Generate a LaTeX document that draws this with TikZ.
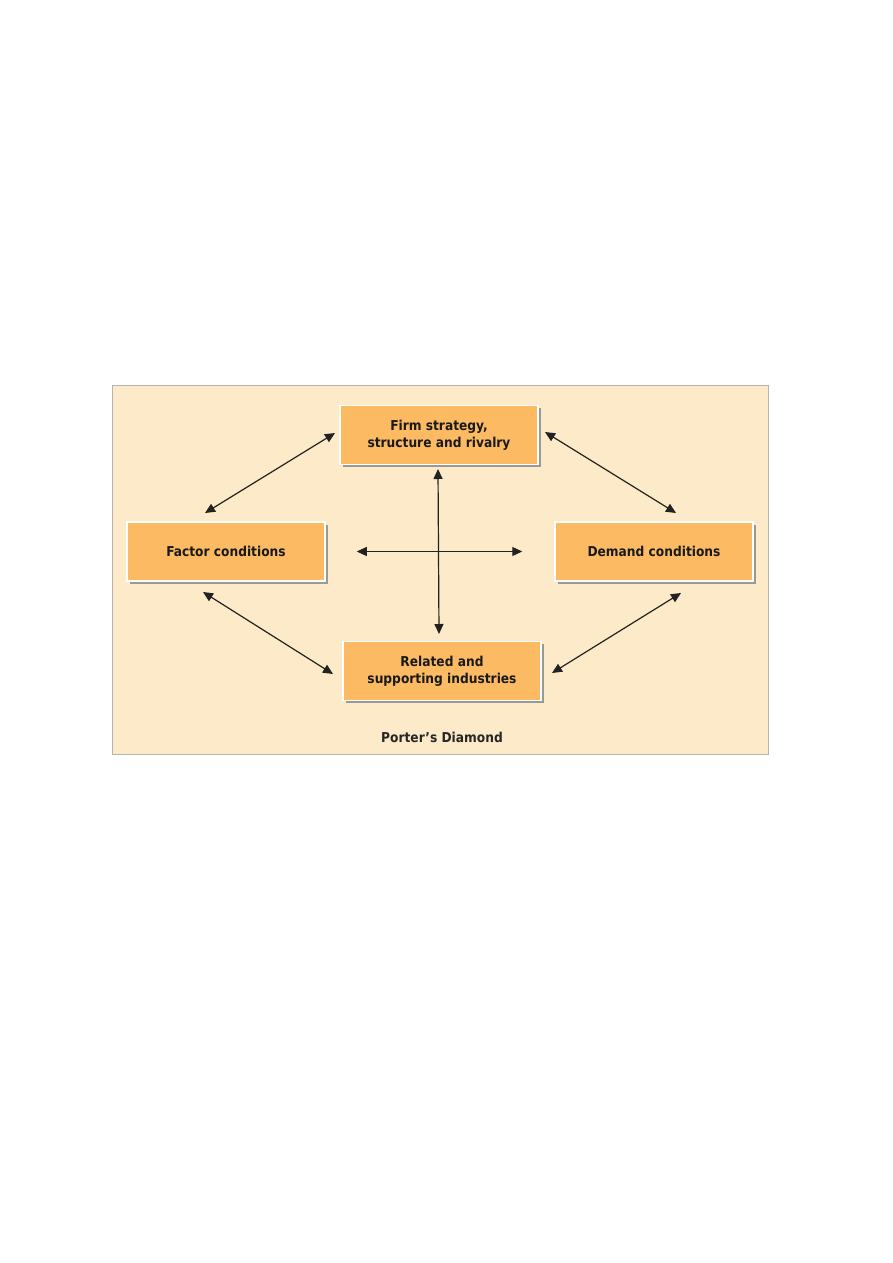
\documentclass[tikz,border=0pt]{standalone}
\usepackage{fontspec}
\setmainfont{DejaVu Sans Condensed}
\usetikzlibrary{arrows.meta,shadows}
\definecolor{panelfill}{HTML}{FDEAC8}
\definecolor{boxfill}{HTML}{FCBB62}
\definecolor{panelline}{HTML}{B4B4B4}
\definecolor{arrowcol}{HTML}{222222}
\tikzset{
  fbox/.style={rectangle, draw=white, line width=1.5pt, fill=boxfill,
    minimum width=198pt, minimum height=59pt, inner sep=2pt, align=center,
    font=\bfseries\fontsize{13.6}{17}\selectfont, text=black!90,
    drop shadow={shadow xshift=2.5pt, shadow yshift=-2.5pt, fill=gray!80, opacity=1}},
  conn/.style={draw=arrowcol, line width=1.2pt, {Triangle[length=10pt,width=9pt]}-{Triangle[length=10pt,width=9pt]}},
  captionstyle/.style={font=\bfseries\fontsize{13.6}{15}\selectfont, text=black!85}
}
\begin{document}
\begin{tikzpicture}[x=1pt,y=-1pt]
\useasboundingbox[fill=white] (0,0) rectangle (893,1263);
\draw[panelline, fill=panelfill, line width=1pt] (112.5,385.5) rectangle (768,754);
\node[fbox] (top) at (439,435) {Firm strategy,\\structure and rivalry};
\node[fbox] (fc) at (226,551.5) {Factor conditions};
\node[fbox] (dc) at (654,551.5) {Demand conditions};
\node[fbox] (bot) at (442,671) {Related and\\supporting industries};
\node[captionstyle] (cap) at (442,737) {Porter’s Diamond};
\coordinate (a1) at (205,513);
\coordinate (a2) at (335,433);
\coordinate (b1) at (545,432);
\coordinate (b2) at (676,513);
\coordinate (c1) at (203,592);
\coordinate (c2) at (333,674);
\coordinate (d1) at (552,673);
\coordinate (d2) at (681,593);
\coordinate (v1) at (438,469);
\coordinate (v2) at (439,634);
\draw[conn] (a1) -- (a2);
\draw[conn] (b1) -- (b2);
\draw[conn] (c1) -- (c2);
\draw[conn] (d1) -- (d2);
\draw[conn] (v1) -- (v2);
\draw[conn, shorten <=31pt, shorten >=32pt] (fc.east) -- (dc.west);
\end{tikzpicture}
\end{document}
